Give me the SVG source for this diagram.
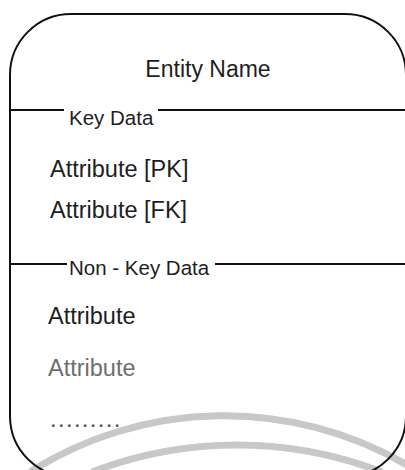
<svg xmlns="http://www.w3.org/2000/svg" width="405" height="470" viewBox="0 0 405 470">
  <style>
    .t { font-family: "Liberation Sans", Arial, sans-serif; fill: #1e1e1e; }
    .sec { font-size: 20.5px; }
    .attr { font-size: 23.5px; }
    .ln { stroke: #111; stroke-width: 2; fill: none; }
    .deco { stroke: #c8c8c8; stroke-width: 7; fill: none; }
  </style>
  <rect width="405" height="470" fill="#ffffff"/>
  <g id="decoration">
    <path class="deco" d="M 30 472 A 363 363 0 0 1 407 465"/>
    <path class="deco" d="M 92 472 A 403 403 0 0 1 382 472"/>
  </g>
  <g id="entity">
    <rect class="ln" x="10" y="14" width="396" height="463" rx="61" ry="61"/>
    <text class="t" x="208" y="77" font-size="23" text-anchor="middle">Entity Name</text>
    <line class="ln" x1="10" y1="110" x2="64" y2="110"/>
    <line class="ln" x1="158" y1="110" x2="406" y2="110"/>
    <text class="t sec" x="69" y="125">Key Data</text>
    <text class="t attr" x="50" y="177">Attribute [PK]</text>
    <text class="t attr" x="50" y="218">Attribute [FK]</text>
    <line class="ln" x1="10" y1="264" x2="67" y2="264"/>
    <line class="ln" x1="215" y1="264" x2="406" y2="264"/>
    <text class="t sec" x="69" y="275">Non - Key Data</text>
    <text class="t attr" x="48" y="324">Attribute</text>
    <text class="t attr" x="48" y="376" style="fill:#6e6e6e">Attribute</text>
    <text class="t" x="50" y="427" font-size="24" letter-spacing="1.3" style="fill:#555">.........</text>
  </g>
  <g id="connectors"/>
</svg>
